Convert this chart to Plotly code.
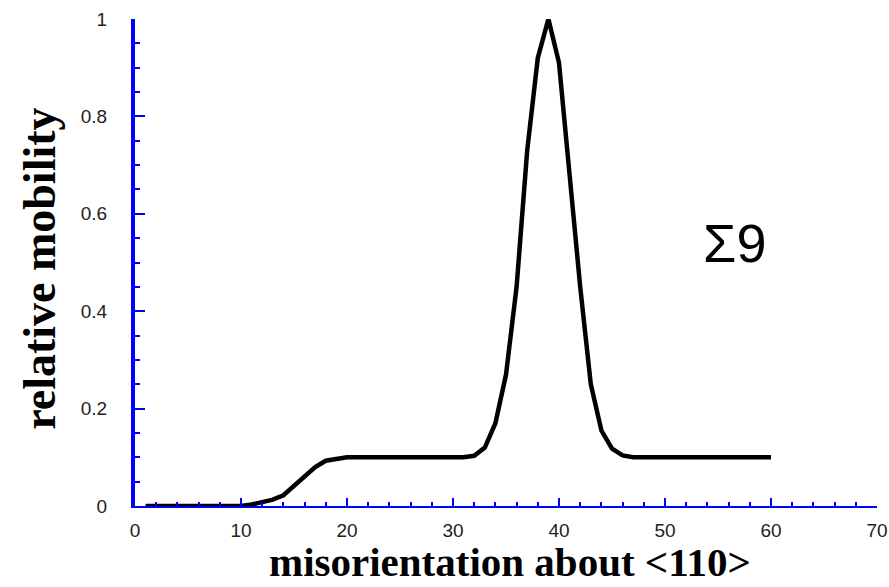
import plotly.graph_objects as go

misorientation = [1, 10, 11, 12, 13, 14, 15, 16, 17, 18, 19, 20, 31, 32, 33, 34, 35,
                  36, 37, 38, 39, 40, 41, 42, 43, 44, 45, 46, 47, 60]
mobility = [0, 0, 0.003, 0.008, 0.013, 0.022, 0.042, 0.062, 0.08, 0.093, 0.097, 0.1,
            0.1, 0.103, 0.12, 0.17, 0.27, 0.45, 0.73, 0.92, 1.0, 0.91, 0.68, 0.45,
            0.25, 0.155, 0.118, 0.104, 0.1, 0.1]

x_ticks = [0, 10, 20, 30, 40, 50, 60, 70]
y_ticks = [0, 0.2, 0.4, 0.6, 0.8, 1]
y_tick_labels = ["0", "0.2", "0.4", "0.6", "0.8", "1"]

fig = go.Figure()
fig.add_trace(go.Scatter(x=misorientation, y=mobility, mode="lines",
                         line=dict(color="black", width=4.5), showlegend=False,
                         hoverinfo="skip"))

tick_font = dict(family="Liberation Sans, Arial, sans-serif", size=19, color="#222")
fig.update_xaxes(range=[0, 70], tickvals=x_ticks, ticks="inside", ticklen=8,
                 tickwidth=2, tickcolor="#0000ff", showline=True, linecolor="#0000ff",
                 linewidth=2, showgrid=False, zeroline=False, tickfont=tick_font,
                 ticklabelstandoff=6, automargin=False,
                 minor=dict(dtick=2, ticks="inside", ticklen=4, tickwidth=2,
                            tickcolor="#0000ff", showgrid=False))
fig.update_yaxes(range=[0, 1], tickvals=y_ticks, ticktext=y_tick_labels,
                 ticks="inside", ticklen=10, tickwidth=2,
                 tickcolor="#0000ff", showline=True, linecolor="#0000ff", linewidth=4,
                 showgrid=False, zeroline=False, tickfont=tick_font,
                 ticklabelstandoff=20, automargin=False,
                 minor=dict(dtick=0.05, ticks="inside", ticklen=5, tickwidth=2,
                            tickcolor="#0000ff", showgrid=False))

fig.add_annotation(text="<b>misorientation about &lt;110&gt;</b>", xref="paper", yref="paper",
                   x=0.506, y=-0.1664, xanchor="center", yanchor="bottom",
                   showarrow=False,
                   font=dict(family="Liberation Serif, Times New Roman, serif", size=41,
                             color="black"))
fig.add_annotation(text="<b>relative mobility</b>", xref="paper", yref="paper",
                   x=-0.128, y=0.487, xanchor="center", yanchor="middle", textangle=-90,
                   showarrow=False,
                   font=dict(family="Liberation Serif, Times New Roman, serif", size=46,
                             color="black"))
fig.add_annotation(text="Σ9", x=56.6, y=0.54, xanchor="center", yanchor="middle",
                   showarrow=False,
                   font=dict(family="Liberation Sans, Arial, sans-serif", size=54,
                             color="black"))

fig.update_layout(width=889, height=587, margin=dict(l=135, r=12, t=19, b=81),
                  plot_bgcolor="white", paper_bgcolor="white")
fig.write_html("out.html")
